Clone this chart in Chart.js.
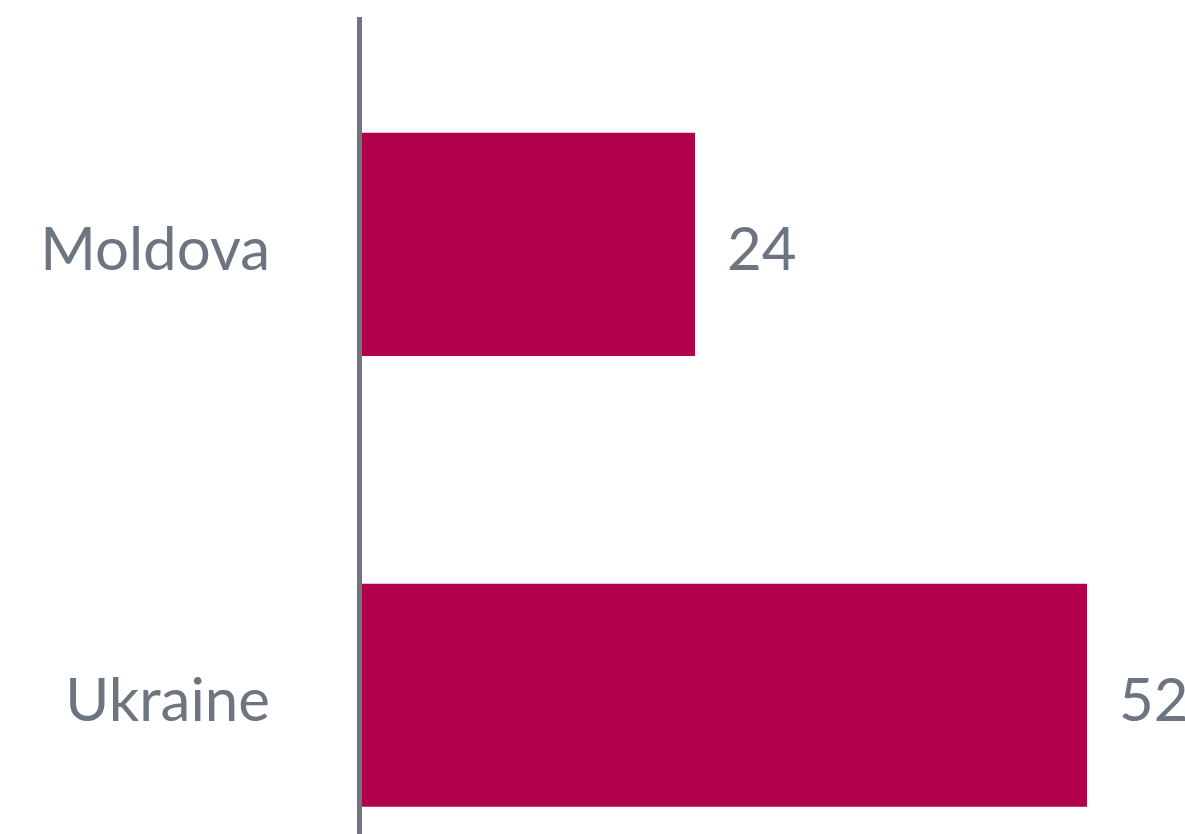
<!DOCTYPE html>
<html lang="en">
<head>
    <meta charset="UTF-8">
    <title>Moldova / Ukraine</title>
    <style>
        html, body { margin: 0; padding: 0; background: #fff; overflow: hidden; }
        canvas { display: block; }
    </style>
</head>
<body>
    <canvas id="chart" width="1185" height="921"></canvas>
    <script src="https://cdn.jsdelivr.net/npm/chart.js@4/dist/chart.umd.min.js"></script>
    <script>
        const countries = ["Moldova", "Ukraine"]
        const values = [24, 52]

        const textColor = '#6c7580'
        const barColor = '#b3004d'

        // draws the number just right of each bar
        const valueLabels = {
            id: 'valueLabels',
            afterDatasetsDraw(chart) {
                const ctx = chart.ctx
                const meta = chart.getDatasetMeta(0)
                ctx.save()
                ctx.font = '60px Lato'
                ctx.fillStyle = textColor
                ctx.textAlign = 'left'
                ctx.textBaseline = 'middle'
                meta.data.forEach((bar, i) => {
                    ctx.fillText(values[i], bar.x + 32, bar.y + 6)
                })
                ctx.restore()
            }
        }

        const ctx = document.getElementById('chart').getContext('2d')
        const myChart = new Chart(ctx, {
            type: 'bar',
            data: {
                labels: countries,
                datasets: [{
                    data: values,
                    backgroundColor: barColor,
                    borderWidth: 0,
                    barPercentage: 1,
                    categoryPercentage: 0.495
                }]
            },
            options: {
                indexAxis: 'y',
                responsive: false,
                animation: false,
                layout: { padding: { top: 19, left: 0, right: 0, bottom: 0 } },
                plugins: {
                    legend: { display: false },
                    tooltip: { enabled: false }
                },
                scales: {
                    x: {
                        display: false,
                        min: 0,
                        max: 59
                    },
                    y: {
                        afterFit: (scale) => { scale.width = 359 },
                        grid: {
                            display: true,
                            drawOnChartArea: false,
                            drawTicks: true,
                            tickLength: 89,
                            color: 'transparent'
                        },
                        border: { display: true, color: textColor, width: 5, z: 1 },
                        ticks: {
                            padding: 0,
                            labelOffset: 6,
                            color: textColor,
                            font: { family: 'Lato', size: 60, lineHeight: 0.01 }
                        }
                    }
                }
            },
            plugins: [valueLabels]
        })
    </script>
</body>
</html>
